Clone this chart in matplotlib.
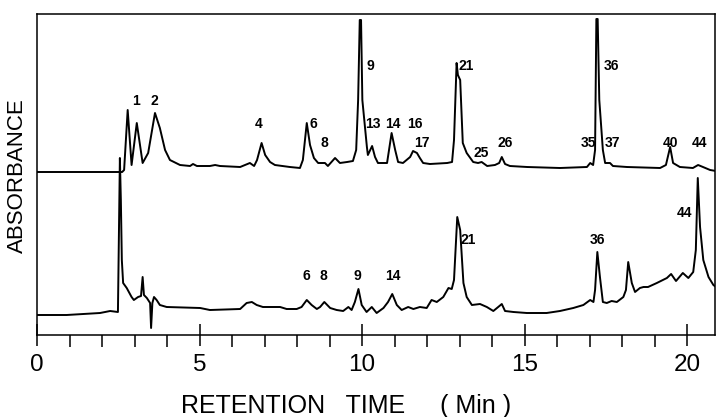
import matplotlib
matplotlib.use('Agg')
import matplotlib.pyplot as plt
from matplotlib.ticker import MultipleLocator

# upper chromatogram (standards), time in min, absorbance in arbitrary units
upper_t = [0.00, 2.49, 2.62, 2.68, 2.79, 2.91, 3.07, 3.25, 3.42, 3.63, 3.78, 3.94,
           4.09, 4.40, 4.71, 4.80, 4.92, 5.32, 5.48, 5.63, 6.25, 6.55, 6.68, 6.77,
           6.91, 7.02, 7.17, 7.32, 7.78, 8.09, 8.18, 8.30, 8.40, 8.52, 8.65, 8.86,
           8.95, 9.17, 9.32, 9.54, 9.72, 9.82, 9.88, 9.93, 9.97, 10.01, 10.15, 10.18,
           10.31, 10.40, 10.49, 10.77, 10.91, 11.02, 11.11, 11.26, 11.48, 11.57, 11.69,
           11.78, 11.88, 12.09, 12.62, 12.77, 12.83, 12.91, 12.95, 13.02, 13.10, 13.22,
           13.42, 13.57, 13.68, 13.85, 14.09, 14.22, 14.30, 14.40, 14.55, 15.08, 16.09,
           16.92, 17.02, 17.11, 17.17, 17.21, 17.25, 17.30, 17.41, 17.48, 17.63, 17.72,
           18.15, 19.17, 19.35, 19.48, 19.57, 19.78, 20.18, 20.34, 20.49, 20.71, 20.89]
upper_a = [163, 163, 163, 165, 225, 170, 212, 172, 182, 222, 207, 185,
           175, 170, 169, 171, 169, 169, 170, 169, 168, 172, 169, 175,
           192, 180, 173, 170, 168, 167, 175, 212, 190, 177, 172, 172,
           169, 177, 172, 173, 174, 185, 235, 315, 315, 235, 188, 180,
           189, 178, 172, 172, 202, 185, 173, 172, 178, 184, 182,
           177, 172, 171, 172, 173, 195, 272, 260, 255, 192, 182,
           173, 172, 173, 169, 170, 172, 178, 171, 169, 168, 167,
           168, 172, 170, 185, 316, 316, 235, 185, 172, 172, 169,
           168, 167, 170, 188, 172, 168, 167, 170, 168, 165, 164]

# lower chromatogram (sample)
lower_t = [0.00, 0.91, 1.94, 2.25, 2.49, 2.55, 2.58, 2.61, 2.65, 2.76, 2.91, 2.98,
           3.11, 3.20, 3.25, 3.29, 3.38, 3.48, 3.51, 3.55, 3.60, 3.68, 3.78, 3.99,
           5.02, 5.32, 6.25, 6.45, 6.61, 6.76, 6.95, 7.48, 7.68, 7.99, 8.14, 8.30,
           8.45, 8.61, 8.71, 8.84, 9.02, 9.22, 9.42, 9.58, 9.68, 9.78, 9.89, 9.99,
           10.14, 10.30, 10.45, 10.66, 10.80, 10.93, 11.07, 11.22, 11.42, 11.58, 11.78,
           11.99, 12.14, 12.30, 12.50, 12.66, 12.76, 12.83, 12.93, 13.02, 13.12, 13.22,
           13.38, 13.63, 13.84, 14.04, 14.19, 14.30, 14.40, 14.66, 15.07, 15.68, 16.09,
           16.50, 16.81, 17.02, 17.12, 17.17, 17.24, 17.32, 17.41, 17.53, 17.68, 17.84,
           18.04, 18.12, 18.19, 18.30, 18.40, 18.55, 18.66, 18.80, 19.07, 19.38, 19.51,
           19.66, 19.87, 20.04, 20.19, 20.27, 20.33, 20.40, 20.50, 20.66, 20.81, 20.89]
lower_a = [20, 20, 22, 24, 23, 177, 135, 75, 52, 47, 38, 35,
           38, 39, 58, 40, 37, 32, 7, 32, 38, 35, 30, 28,
           27, 25, 26, 32, 33, 30, 28, 28, 26, 26, 28, 35,
           30, 26, 28, 33, 27, 25, 24, 28, 25, 33, 46, 30,
           23, 28, 22, 27, 33, 41, 30, 25, 28, 26, 28,
           27, 35, 33, 38, 47, 46, 55, 118, 105, 52, 38,
           30, 31, 28, 24, 28, 31, 24, 23, 22, 22, 24,
           27, 30, 35, 33, 45, 83, 58, 33, 32, 34, 33,
           38, 45, 73, 52, 43, 47, 48, 48, 52, 57, 61,
           54, 62, 57, 63, 85, 157, 108, 75, 58, 50, 48]

# peak numbers: (label, time, height)
upper_labels = ['1', '2', '4', '6', '8', '9', '13', '14', '16', '17', '21', '25',
                '26', '35', '36', '37', '40', '44']
upper_lab_t = [3.05, 3.60, 6.83, 8.49, 8.83, 10.25, 10.34, 10.95, 11.63, 11.84, 13.22,
               13.68, 14.40, 16.96, 17.68, 17.71, 19.50, 20.38]
upper_lab_a = [234, 234, 211, 211, 192, 269, 211, 211, 211, 192, 269,
               182, 192, 192, 269, 192, 192, 192]
lower_labels = ['6', '8', '9', '14', '21', '36', '44']
lower_lab_t = [8.28, 8.81, 9.86, 10.94, 13.27, 17.25, 19.92]
lower_lab_a = [59, 59, 59, 59, 95, 95, 122]

plt.rcParams['font.family'] = ['Liberation Sans', 'DejaVu Sans']

fig = plt.figure(figsize=(7.16, 4.17), dpi=100)
ax = fig.add_axes([37 / 716, 82 / 417, 678 / 716, 321 / 417])

ax.plot(upper_t, upper_a, color='black', lw=1.4, solid_joinstyle='round')
ax.plot(lower_t, lower_a, color='black', lw=1.4, solid_joinstyle='round')

for lab, t, a in zip(upper_labels, upper_lab_t, upper_lab_a):
    ax.text(t, a, lab, ha='center', va='center', fontsize=10, fontweight='bold')
for lab, t, a in zip(lower_labels, lower_lab_t, lower_lab_a):
    ax.text(t, a, lab, ha='center', va='center', fontsize=10, fontweight='bold')

ax.set_xlim(0, 20.86)
ax.set_ylim(0, 321)
ax.set_yticks([])
ax.xaxis.set_major_locator(MultipleLocator(5))
ax.xaxis.set_minor_locator(MultipleLocator(1))
ax.tick_params(axis='x', which='major', direction='inout', length=16, width=1.1,
               pad=6, labelsize=17.5)
ax.tick_params(axis='x', which='minor', direction='out', length=8.6, width=1.1)
for s in ax.spines.values():
    s.set_linewidth(1.1)

fig.text(346 / 716, 1 - 406 / 417, 'RETENTION   TIME     ( Min )', ha='center',
         va='center', fontsize=18)
fig.text(17 / 716, 1 - 176 / 417, 'ABSORBANCE', ha='center', va='center',
         rotation=90, fontsize=16)

fig.savefig('out.png', dpi=100)
plt.close(fig)
